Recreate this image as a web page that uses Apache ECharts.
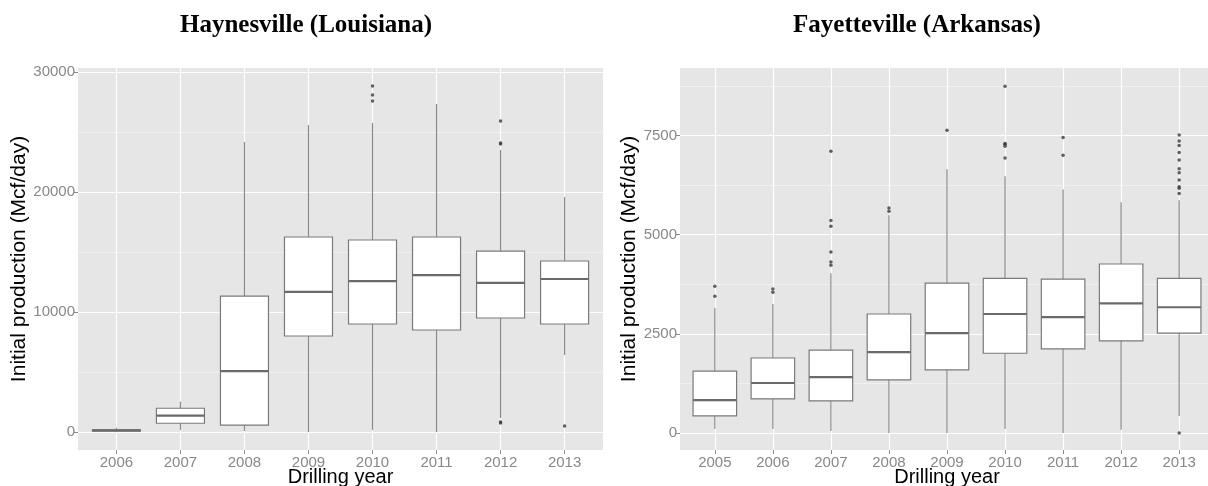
<!DOCTYPE html>
<html>
<head>
<meta charset="utf-8">
<script src="https://cdn.jsdelivr.net/npm/echarts@6/dist/echarts.min.js"></script>
<style>
  html, body { margin: 0; padding: 0; background: #fff; }
  #chart { width: 1208px; height: 486px; }
</style>
</head>
<body>
<div id="chart"></div>
<script>
// Haynesville (Louisiana): [min whisker, q1, median, q3, max whisker]
const hvYears = ['2006', '2007', '2008', '2009', '2010', '2011', '2012', '2013'];
const hvStats = [
  [20, 80, 130, 180, 350],
  [170, 730, 1360, 1980, 2530],
  [80, 580, 5080, 11330, 24170],
  [0, 8000, 11670, 16250, 25580],
  [170, 9000, 12580, 16000, 25750],
  [0, 8500, 13080, 16250, 27330],
  [1170, 9500, 12420, 15080, 23500],
  [6420, 9000, 12750, 14250, 19580]
];
const hvOutliers = [
  [], [], [], [],
  [28830, 28080, 27580],
  [],
  [25920, 24080, 24000, 830, 750],
  [500]
];
const hvTicks = [0, 10000, 20000, 30000];
const hvMinor = [5000, 15000, 25000];

// Fayetteville (Arkansas)
const fvYears = ['2005', '2006', '2007', '2008', '2009', '2010', '2011', '2012', '2013'];
const fvStats = [
  [100, 430, 830, 1560, 3150],
  [100, 860, 1260, 1890, 3250],
  [50, 810, 1410, 2090, 4030],
  [0, 1340, 2040, 3000, 5490],
  [0, 1590, 2520, 3780, 6650],
  [100, 2010, 3000, 3900, 6470],
  [0, 2120, 2920, 3880, 6140],
  [80, 2320, 3270, 4260, 5820],
  [430, 2520, 3170, 3900, 5870]
];
const fvOutliers = [
  [3700, 3450],
  [3630, 3550],
  [7100, 5360, 5210, 4560, 4310, 4230],
  [5670, 5590],
  [7630],
  [8740, 7300, 7280, 7230, 6930],
  [7450, 7000],
  [],
  [7510, 7360, 7250, 7070, 6880, 6660, 6560, 6380, 6210, 6170, 6040, 0]
];
const fvTicks = [0, 2500, 5000, 7500];
const fvMinor = [1250, 3750, 6250, 8750];

const sansFont = '"Liberation Sans", Arial, sans-serif';
const panelBg = '#e6e6e6';

function boxData(stats) {
  return stats.map((s, i) => [i, ...s]);
}
function outlierData(list) {
  const pts = [];
  list.forEach((vals, i) => vals.forEach(v => pts.push([i, v])));
  return pts;
}

function renderBox(params, api) {
  const x = api.value(0);
  const lo = api.coord([x, api.value(1)]);
  const q1 = api.coord([x, api.value(2)]);
  const md = api.coord([x, api.value(3)]);
  const q3 = api.coord([x, api.value(4)]);
  const hi = api.coord([x, api.value(5)]);
  const half = api.size([0.75, 0])[0] / 2;
  const cx = q1[0];
  const whisker = { stroke: '#8a8a8a', lineWidth: 1.2 };
  return {
    type: 'group',
    children: [
      { type: 'line', shape: { x1: cx, y1: hi[1], x2: cx, y2: q3[1] }, style: whisker },
      { type: 'line', shape: { x1: cx, y1: q1[1], x2: cx, y2: lo[1] }, style: whisker },
      {
        type: 'rect',
        shape: { x: cx - half, y: q3[1], width: half * 2, height: q1[1] - q3[1] },
        style: { fill: '#fff', stroke: '#7a7a7a', lineWidth: 1.2 }
      },
      {
        type: 'line',
        shape: { x1: cx - half, y1: md[1], x2: cx + half, y2: md[1] },
        style: { stroke: '#6a6a6a', lineWidth: 2.2 }
      }
    ]
  };
}

function xAxisFor(years, gridIndex) {
  const idx = years.map((y, i) => i);
  return {
    type: 'value',
    gridIndex: gridIndex,
    min: -0.6,
    max: years.length - 0.4,
    name: 'Drilling year',
    nameLocation: 'middle',
    nameGap: 17,
    nameMoveOverlap: false,
    nameTextStyle: { color: '#000', fontSize: 20, fontFamily: sansFont },
    axisLine: { show: false, onZero: false },
    axisTick: { show: true, length: 4, lineStyle: { color: '#8a8a8a' }, customValues: idx },
    axisLabel: {
      customValues: idx,
      color: '#888',
      fontSize: 15,
      fontFamily: sansFont,
      margin: 5,
      formatter: v => years[Math.round(v)]
    },
    splitLine: { show: true, lineStyle: { color: '#fff', width: 1.2 } }
  };
}

function yAxisFor(ticks, min, max, gridIndex, nameGap) {
  return {
    type: 'value',
    gridIndex: gridIndex,
    min: min,
    max: max,
    name: 'Initial production (Mcf/day)',
    nameLocation: 'middle',
    nameGap: nameGap,
    nameTextStyle: { color: '#000', fontSize: 21, fontFamily: sansFont },
    axisLine: { show: false, onZero: false },
    axisTick: { show: true, length: 4, lineStyle: { color: '#8a8a8a' }, customValues: ticks },
    axisLabel: {
      customValues: ticks, color: '#888', fontSize: 15, fontFamily: sansFont, margin: 3,
      formatter: v => String(v)
    },
    splitLine: { show: true, lineStyle: { color: '#fff', width: 1.2 } }
  };
}

function minorAxisFor(minor, min, max, gridIndex) {
  return {
    type: 'value',
    gridIndex: gridIndex,
    min: min,
    max: max,
    axisLine: { show: false, onZero: false },
    axisTick: { show: false, customValues: minor },
    axisLabel: { show: false, customValues: minor },
    splitLine: { show: true, lineStyle: { color: '#f3f3f3', width: 0.7 } }
  };
}

const chart = echarts.init(document.getElementById('chart'));
chart.setOption({
  animation: false,
  backgroundColor: '#fff',
  graphic: [
    {
      type: 'text', x: 306, y: 26,
      style: {
        text: 'Haynesville (Louisiana)', fill: '#000', textAlign: 'center', textVerticalAlign: 'middle',
        font: 'bold 25px "Liberation Serif", "Times New Roman", serif'
      }
    },
    {
      type: 'text', x: 917, y: 26,
      style: {
        text: 'Fayetteville (Arkansas)', fill: '#000', textAlign: 'center', textVerticalAlign: 'middle',
        font: 'bold 25px "Liberation Serif", "Times New Roman", serif'
      }
    }
  ],
  grid: [
    {
      left: 78, top: 68, width: 525, height: 382, show: true, backgroundColor: panelBg, borderWidth: 0,
      outerBoundsMode: 'none', containLabel: false
    },
    {
      left: 680, top: 68, width: 534, height: 382, show: true, backgroundColor: panelBg, borderWidth: 0,
      outerBoundsMode: 'none', containLabel: false
    }
  ],
  xAxis: [xAxisFor(hvYears, 0), xAxisFor(fvYears, 1)],
  yAxis: [
    yAxisFor(hvTicks, -1500, 30333, 0, 45),
    minorAxisFor(hvMinor, -1500, 30333, 0),
    yAxisFor(fvTicks, -429, 9202, 1, 37),
    minorAxisFor(fvMinor, -429, 9202, 1)
  ],
  series: [
    {
      type: 'custom', xAxisIndex: 0, yAxisIndex: 0,
      renderItem: renderBox, encode: { x: 0, y: [1, 2, 3, 4, 5] },
      data: boxData(hvStats), z: 3
    },
    {
      type: 'scatter', xAxisIndex: 0, yAxisIndex: 0,
      symbolSize: 3.5, itemStyle: { color: '#3a3a3a' },
      data: outlierData(hvOutliers), z: 4
    },
    {
      type: 'custom', xAxisIndex: 1, yAxisIndex: 2,
      renderItem: renderBox, encode: { x: 0, y: [1, 2, 3, 4, 5] },
      data: boxData(fvStats), z: 3
    },
    {
      type: 'scatter', xAxisIndex: 1, yAxisIndex: 2,
      symbolSize: 3.5, itemStyle: { color: '#3a3a3a' },
      data: outlierData(fvOutliers), z: 4
    }
  ]
});
</script>
</body>
</html>
